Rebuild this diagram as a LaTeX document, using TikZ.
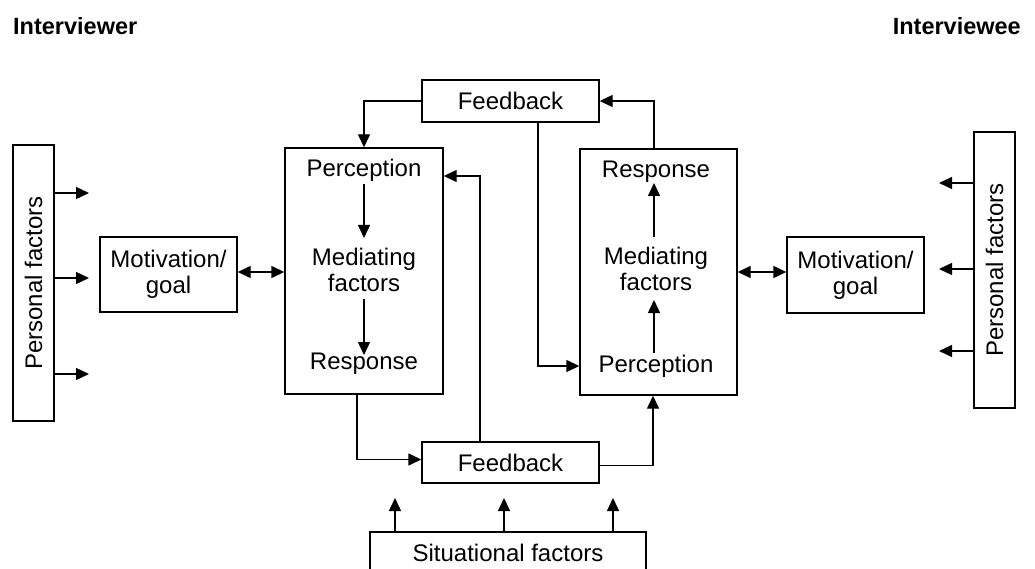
\documentclass[tikz,border=0pt]{standalone}
\usepackage{fontspec}
\setmainfont{Liberation Sans}
\usetikzlibrary{arrows.meta}
\begin{document}
\begin{tikzpicture}[x=1pt,y=-1pt,
  every node/.style={font=\fontsize{24}{26}\selectfont, align=center},
  box/.style={draw, line width=1.4pt, inner sep=0pt},
  txt/.style={inner sep=1pt},
  title/.style={font=\fontsize{23.5}{26}\selectfont\bfseries, inner sep=0pt},
  arr/.style={line width=1.4pt, -{Triangle[length=13pt,width=12pt]}},
  darr/.style={line width=1.4pt, {Triangle[length=13pt,width=12pt]}-{Triangle[length=13pt,width=12pt]}}
]
\useasboundingbox (0,0) rectangle (1035,569);
\fill[white] (0,0) rectangle (1035,569);

% titles
\node[title, anchor=west] (t1) at (13,26) {Interviewer};
\node[title, anchor=east] (t2) at (1021,26) {Interviewee};

% personal factors
\node[box, rotate=90, minimum width=276pt, minimum height=41pt] (pfL) at (33.5,283) {Personal factors};
\node[box, rotate=90, minimum width=276pt, minimum height=41pt] (pfR) at (994.5,270) {Personal factors};

% motivation
\node[box, minimum width=137pt, minimum height=75pt] (motL) at (168.5,274.5) {Motivation/\\goal};
\node[box, minimum width=137pt, minimum height=76pt] (motR) at (855.5,275) {Motivation/\\goal};

% big boxes
\node[box, minimum width=158pt, minimum height=246pt] (boxL) at (364,271) {};
\node[box, minimum width=157pt, minimum height=246pt] (boxR) at (658.5,272) {};

\node[txt] (percL) at (364,170) {Perception};
\node[txt] (medL) at (364,270) {Mediating\\factors};
\node[txt] (respL) at (364,364) {Response};

\node[txt] (respR) at (656,172) {Response};
\node[txt] (medR) at (656,269) {Mediating\\factors};
\node[txt] (percR) at (656,366) {Perception};

% feedback
\node[box, minimum width=177pt, minimum height=42pt] (fbT) at (510.5,101) {Feedback};
\node[box, minimum width=177pt, minimum height=41pt] (fbB) at (510.5,462.5) {Feedback};

% situational
\node[box, minimum width=276pt, minimum height=42pt] (sit) at (508,553) {Situational factors};

% coordinates
\coordinate (pl1) at (89,193);
\coordinate (pl2) at (89,278);
\coordinate (pl3) at (89,374);
\coordinate (pr1) at (939,183);
\coordinate (pr2) at (939,269);
\coordinate (pr3) at (939,351);
\coordinate (s1) at (395,498);
\coordinate (s2) at (504,498);
\coordinate (s3) at (613,498);
\coordinate (aL1) at (364,184);
\coordinate (aL2) at (364,238);
\coordinate (aL3) at (364,299);
\coordinate (aL4) at (364,355);
\coordinate (aR1) at (654,353);
\coordinate (aR2) at (654,300);
\coordinate (aR3) at (654,237);
\coordinate (aR4) at (654,183);

% personal factor arrows
\foreach \c in {pl1,pl2,pl3} \draw[arr] (pfL.south |- \c) -- (\c);
\foreach \c in {pr1,pr2,pr3} \draw[arr] (pfR.north |- \c) -- (\c);

% situational arrows
\foreach \c in {s1,s2,s3} \draw[arr] (sit.north -| \c) -- (\c);

% double arrows
\draw[darr] (motL.east |- 0,272) -- (boxL.west |- 0,272);
\draw[darr] (boxR.east |- 0,272) -- (motR.west |- 0,272);

% inner arrows
\draw[arr] (aL1) -- (aL2);
\draw[arr] (aL3) -- (aL4);
\draw[arr] (aR1) -- (aR2);
\draw[arr] (aR3) -- (aR4);

% feedback loops
\draw[arr] (fbT.west) -| (boxL.north);
\draw[arr] ([xshift=-4.5pt]boxR.north) |- (fbT.east);
\draw[arr] ([xshift=27.5pt]fbT.south) |- (boxR.west |- percR);
\draw[arr] ([xshift=-30.5pt]fbB.north) |- (boxL.east |- 0,176);
\draw[arr] ([xshift=-7pt]boxL.south) |- ([yshift=3pt]fbB.west);
\draw[arr] ([yshift=-3pt]fbB.east) -| ([xshift=-5.5pt]boxR.south);
\end{tikzpicture}
\end{document}
